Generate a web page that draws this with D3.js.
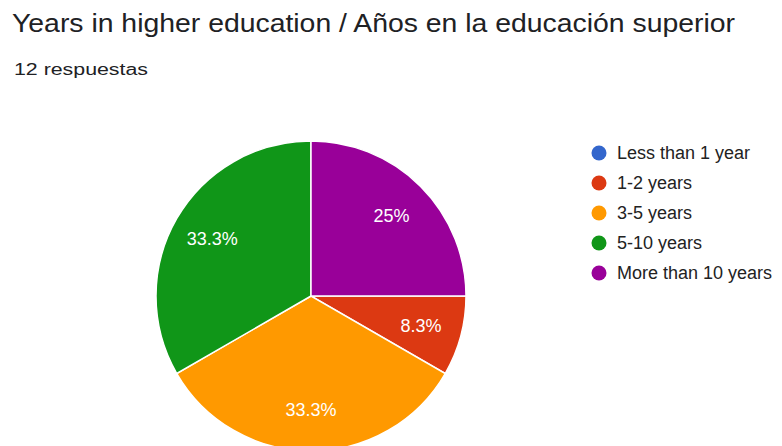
<!DOCTYPE html>
<html>
<head>
<meta charset="utf-8">
<script src="https://cdn.jsdelivr.net/npm/d3@7"></script>
<style>
  body { margin: 0; background: #fff; }
  text { font-family: "Liberation Sans", Arial, sans-serif; }
</style>
</head>
<body>
<script>
let categories = ["Less than 1 year", "1-2 years", "3-5 years", "5-10 years", "More than 10 years"];
let counts = [0, 1, 4, 4, 3];
let colors = ["#3366cc", "#dc3912", "#ff9900", "#109618", "#990099"];

let width = 782;
let height = 446;

let svg = d3.select("body").append("svg").attr("width", width).attr("height", height);

svg.append("text")
    .attr("x", 12).attr("y", 32)
    .attr("font-size", 26).attr("fill", "#202124")
    .attr("textLength", 723).attr("lengthAdjust", "spacingAndGlyphs")
    .text("Years in higher education / Años en la educación superior");

svg.append("text")
    .attr("x", 14).attr("y", 75)
    .attr("font-size", 16).attr("fill", "#202124")
    .attr("textLength", 134).attr("lengthAdjust", "spacingAndGlyphs")
    .text("12 respuestas");

let data = categories.map((c, i) => ({cat: c, value: counts[i], color: colors[i]}));
let total = d3.sum(counts);

let radius = 155;
let pie = d3.pie().sort(null).value((d) => d.value)
    .startAngle(Math.PI / 2).endAngle(Math.PI / 2 + 2 * Math.PI);
let arc = d3.arc().innerRadius(0).outerRadius(radius);
let labelArc = d3.arc().innerRadius(114 * 2 - radius).outerRadius(radius);

let chartGroup = svg.append("g").attr("transform", `translate(311,296)`);

let arcs = pie(data).filter((d) => d.data.value > 0);

chartGroup.selectAll("path").data(arcs).enter().append("path")
    .attr("d", arc)
    .attr("fill", (d) => d.data.color)
    .attr("stroke", "#fff").attr("stroke-width", 1.5);

let fmt = (v) => {
    let p = (v / total * 100).toFixed(1);
    return (p.endsWith(".0") ? p.slice(0, -2) : p) + "%";
};

chartGroup.selectAll("text.lbl").data(arcs).enter().append("text")
    .attr("class", "lbl")
    .attr("transform", (d) => `translate(${labelArc.centroid(d)})`)
    .attr("text-anchor", "middle").attr("dy", "0.35em")
    .attr("font-size", 18).attr("fill", "#fff")
    .text((d) => fmt(d.data.value));

let legend = svg.append("g").attr("transform", "translate(599,153)");
let legendItems = legend.selectAll("g").data(data).enter().append("g")
    .attr("transform", (d, i) => `translate(0,${i * 30})`);
legendItems.append("circle").attr("r", 7.5).attr("fill", (d) => d.color);
legendItems.append("text")
    .attr("x", 18).attr("dy", "0.35em")
    .attr("font-size", 18).attr("fill", "#222")
    .text((d) => d.cat);
</script>
</body>
</html>
